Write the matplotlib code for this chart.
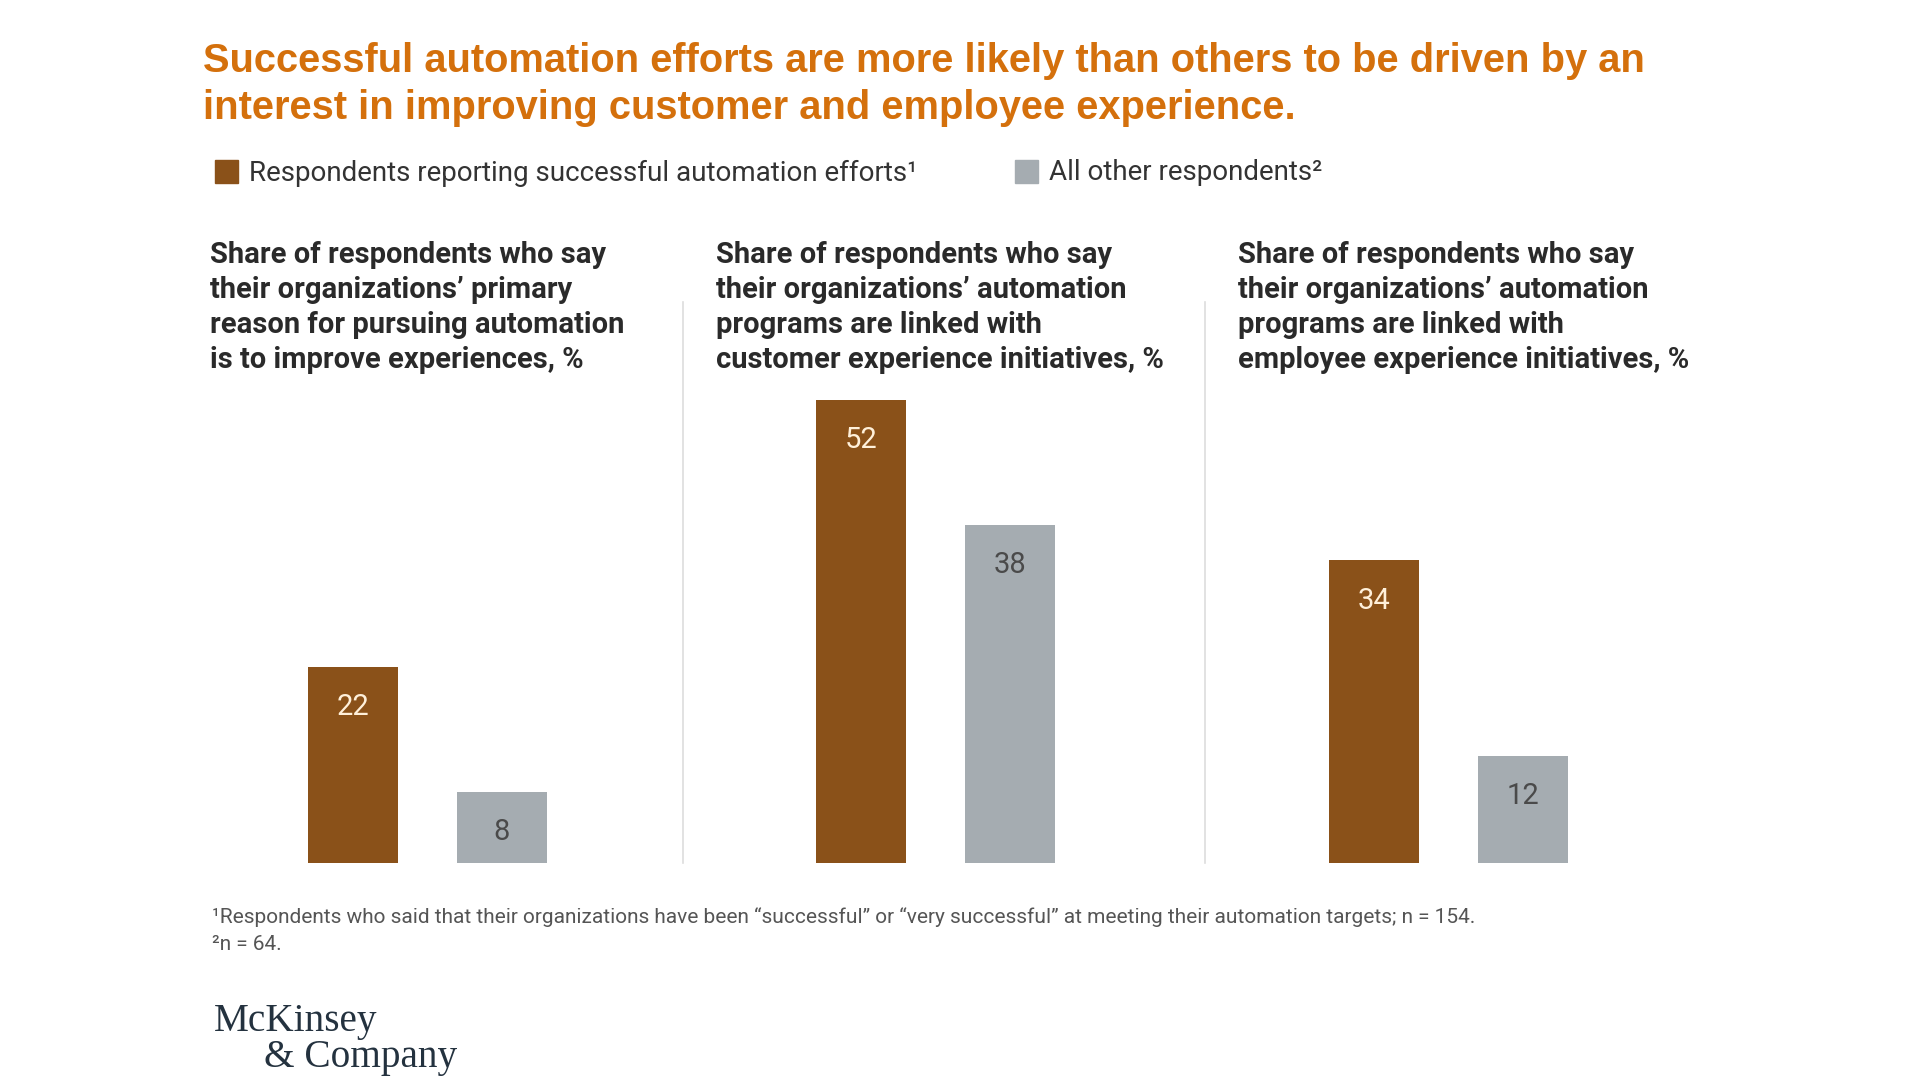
import matplotlib
matplotlib.use("Agg")
import matplotlib.pyplot as plt
from matplotlib.lines import Line2D
from matplotlib.patches import Rectangle

# data
panel_titles = [
    "Share of respondents who say\ntheir organizations\u2019 primary\nreason for pursuing automation\nis to improve experiences, %",
    "Share of respondents who say\ntheir organizations\u2019 automation\nprograms are linked with\ncustomer experience initiatives, %",
    "Share of respondents who say\ntheir organizations\u2019 automation\nprograms are linked with\nemployee experience initiatives, %",
]
successful = [22, 52, 34]
others = [8, 38, 12]
series_names = ["Respondents reporting successful automation efforts\u00b9",
                "All other respondents\u00b2"]
title = ("Successful automation efforts are more likely than others to be driven by an\n"
         "interest in improving customer and employee experience.")
footnotes = [
    "\u00b9Respondents who said that their organizations have been \u201csuccessful\u201d or "
    "\u201cvery successful\u201d at meeting their automation targets; n = 154.",
    "\u00b2n = 64.",
]

ORANGE = "#8A5119"
GRAY = "#A5ACB1"
TITLE_COL = "#D4700C"
DARK = "#2A2A2A"

W, H = 1920, 1080
fig = plt.figure(figsize=(19.2, 10.8), dpi=100)
fig.patch.set_facecolor("white")


def fx(px):
    return px / W


def fy(py):
    return 1 - py / H


# title
fig.text(fx(203), fy(42), title, ha="left", va="top", fontsize=28.7,
         fontweight="bold", color=TITLE_COL, family="Liberation Sans",
         linespacing=1.3)

# legend
for i, (name, col) in enumerate(zip(series_names, [ORANGE, GRAY])):
    x0 = [215, 1015][i]
    fig.patches.append(Rectangle((fx(x0), fy(183)), fx(23), 23 / H, color=col,
                                 transform=fig.transFigure, figure=fig))
    fig.text(fx(x0 + 34), fy(173), name, ha="left", va="center", fontsize=20,
             color="#333333", family="Roboto")

# panels
orange_centers = [353, 861, 1374]
title_x = [210, 716, 1238]
step = 149
bottom = 863
px_per_unit = 8.9
ymax = 60
for k in range(3):
    left = orange_centers[k] - step
    ax = fig.add_axes([fx(left), fy(bottom), fx(3 * step), ymax * px_per_unit / H])
    vals = [successful[k], others[k]]
    bars = ax.bar([0, 1], vals, width=90 / step, color=[ORANGE, GRAY])
    ax.set_xlim(-1, 2)
    ax.set_ylim(0, ymax)
    ax.axis("off")
    for b, v, tc in zip(bars, vals, ["#FFF0DA", "#4A4A4A"]):
        ax.annotate(str(v), (b.get_x() + b.get_width() / 2, v), xytext=(0, -29),
                    textcoords="offset points", ha="center", va="center",
                    fontsize=21, color=tc, family="Roboto")
    fig.text(fx(title_x[k]), fy(241), panel_titles[k], ha="left", va="top",
             fontsize=21, fontweight="bold", color=DARK, family="Roboto",
             linespacing=1.32)

# separators
for xs in [683, 1205]:
    fig.add_artist(Line2D([fx(xs), fx(xs)], [fy(302), fy(863)], color="#DDDDDD",
                          lw=1.2, transform=fig.transFigure))

# footnotes
fig.text(fx(212), fy(917), footnotes[0], ha="left", va="center", fontsize=15,
         color="#555555", family="Roboto")
fig.text(fx(212), fy(944), footnotes[1], ha="left", va="center", fontsize=15,
         color="#555555", family="Roboto")

# logo
fig.text(fx(214), fy(1021), "McKinsey", ha="left", va="center", fontsize=28.3,
         color="#24323F", family="Liberation Serif")
fig.text(fx(264), fy(1058), "& Company", ha="left", va="center", fontsize=28.3,
         color="#24323F", family="Liberation Serif")

fig.savefig("out.png", dpi=100, facecolor="white")
